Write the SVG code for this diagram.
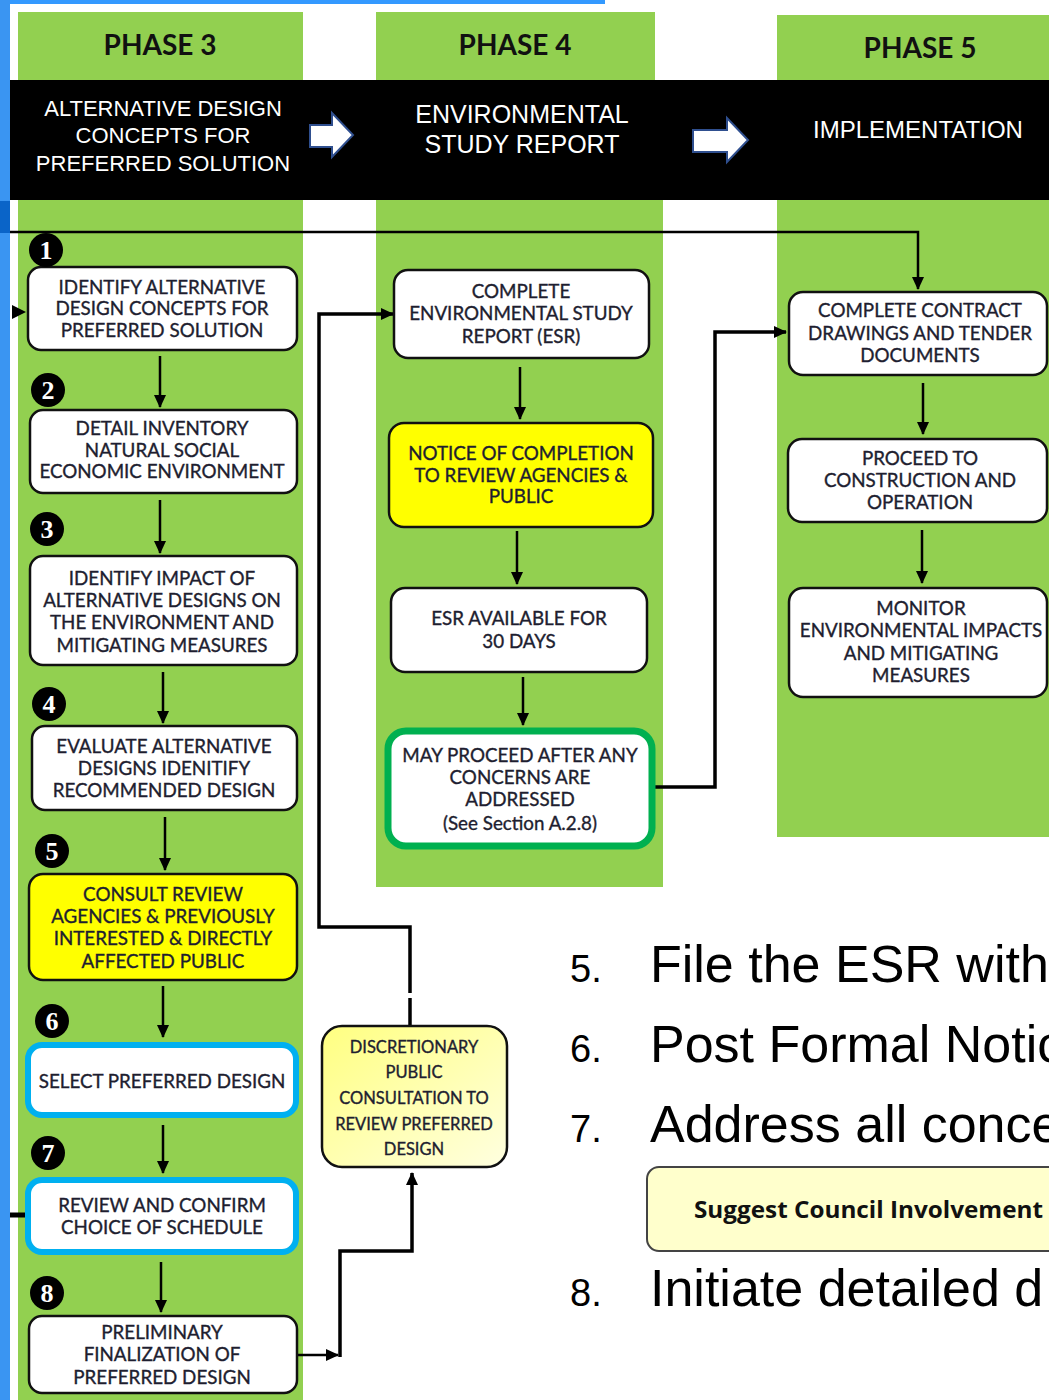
<svg xmlns="http://www.w3.org/2000/svg" width="1049" height="1400" viewBox="0 0 1049 1400">
<defs>
<marker id="ah" markerUnits="userSpaceOnUse" markerWidth="14" markerHeight="14" refX="12" refY="7" orient="auto">
<path d="M0,1 L13,7 L0,13 Z" fill="#000"/>
</marker>
<linearGradient id="ylg" x1="0" y1="0" x2="1" y2="1">
<stop offset="0" stop-color="#ffff80"/>
<stop offset="1" stop-color="#ffffe0"/>
</linearGradient>
<style>
.col{fill:#92d050}
.box{fill:#fff;stroke:#111;stroke-width:2.5}
.yel{fill:#ffff00;stroke:#111;stroke-width:2.5}
.blu{fill:#fff;stroke:#00b0f0;stroke-width:6}
.grn{fill:#fff;stroke:#00b050;stroke-width:7}
.t{font-family:Lato,"Open Sans",sans-serif;font-size:18.8px;fill:#1e1e30;stroke:#1e1e30;stroke-width:0.35;text-anchor:middle}
.ph{font-family:Lato,"Open Sans",sans-serif;font-size:28px;font-weight:bold;fill:#111;text-anchor:middle}
.hd{font-family:"Liberation Sans",Arial,sans-serif;fill:#fff;text-anchor:middle}
.num{font-family:"Liberation Serif",serif;font-weight:bold;font-size:26px;fill:#fff;text-anchor:middle}
.c{fill:none;stroke:#000;stroke-width:2.5}
.c3{fill:none;stroke:#000;stroke-width:3.5}
.lt{font-family:"Liberation Sans",Arial,sans-serif;fill:#000}
</style>
</defs>
<rect width="1049" height="1400" fill="#fff"/>
<!-- frame -->
<rect x="0" y="0" width="605" height="4" fill="#3399ff"/>
<rect x="0" y="0" width="10" height="1400" fill="#3a95f2"/>
<rect x="0" y="201" width="10" height="32" fill="#0a64c8"/>
<!-- columns -->
<g id="columns">
<rect class="col" x="18" y="12" width="285" height="1388"/>
<rect class="col" x="376" y="12" width="279" height="200"/>
<rect class="col" x="376" y="200" width="287" height="687"/>
<rect class="col" x="777" y="15" width="272" height="822"/>
</g>
<text class="ph" x="160" y="55">PHASE 3</text>
<text class="ph" x="515" y="55">PHASE 4</text>
<text class="ph" x="920" y="58">PHASE 5</text>
<!-- header band -->
<rect x="10" y="80" width="1039" height="120" fill="#000"/>
<g class="hd" font-size="22">
<text x="163" y="116">ALTERNATIVE DESIGN</text>
<text x="163" y="143">CONCEPTS FOR</text>
<text x="163" y="171">PREFERRED SOLUTION</text>
</g>
<g class="hd" font-size="25">
<text x="522" y="123">ENVIRONMENTAL</text>
<text x="522" y="153">STUDY REPORT</text>
</g>
<text class="hd" font-size="24" x="918" y="138">IMPLEMENTATION</text>
<polygon points="310,125 332,125 332,113 353,135 332,157 332,147 310,147" fill="#fff" stroke="#2f4f8f" stroke-width="2"/>
<polygon points="693,130 727,130 727,118 748,140 727,162 727,152 693,152" fill="#fff" stroke="#2f4f8f" stroke-width="2"/>

<!-- connectors -->
<g id="connectors">
<polyline class="c" points="10,232 918,232 918,289" marker-end="url(#ah)"/>
<path d="M12,305 L26,312 L12,319 Z" fill="#000"/>
<line x1="10" y1="1215" x2="28" y2="1215" stroke="#000" stroke-width="5"/>
<line class="c" x1="160" y1="356" x2="160" y2="407" marker-end="url(#ah)"/>
<line class="c" x1="160" y1="500" x2="160" y2="553" marker-end="url(#ah)"/>
<line class="c" x1="163" y1="672" x2="163" y2="723" marker-end="url(#ah)"/>
<line class="c" x1="165" y1="817" x2="165" y2="870" marker-end="url(#ah)"/>
<line class="c" x1="163" y1="986" x2="163" y2="1037" marker-end="url(#ah)"/>
<line class="c" x1="163" y1="1125" x2="163" y2="1173" marker-end="url(#ah)"/>
<line class="c" x1="161" y1="1262" x2="161" y2="1312" marker-end="url(#ah)"/>
<line class="c" x1="520" y1="367" x2="520" y2="419" marker-end="url(#ah)"/>
<line class="c" x1="517" y1="531" x2="517" y2="584" marker-end="url(#ah)"/>
<line class="c" x1="523" y1="677" x2="523" y2="725" marker-end="url(#ah)"/>
<line class="c" x1="923" y1="383" x2="923" y2="434" marker-end="url(#ah)"/>
<line class="c" x1="922" y1="530" x2="922" y2="583" marker-end="url(#ah)"/>
<polyline class="c3" points="655,787 715,787 715,332 786,332" marker-end="url(#ah)"/>
<polyline class="c3" points="410,1025 410,998"/>
<polyline class="c3" points="410,993 410,927 319,927 319,314 393,314" marker-end="url(#ah)"/>
<polyline class="c" points="297,1355 338,1355" marker-end="url(#ah)"/>
<polyline class="c3" points="340,1357 340,1251 412,1251 412,1173" marker-end="url(#ah)"/>
</g>

<!-- Phase 3 nodes -->
<g id="p3n1"><rect class="box" x="28" y="267" width="269" height="83" rx="13"/>
<text class="t" x="162" y="294">IDENTIFY ALTERNATIVE</text><text class="t" x="162" y="315">DESIGN CONCEPTS FOR</text><text class="t" x="162" y="337">PREFERRED SOLUTION</text></g>
<g id="p3n2"><rect class="box" x="30" y="410" width="267" height="83" rx="13"/>
<text class="t" x="162" y="435">DETAIL INVENTORY</text><text class="t" x="162" y="457">NATURAL SOCIAL</text><text class="t" x="162" y="478">ECONOMIC ENVIRONMENT</text></g>
<g id="p3n3"><rect class="box" x="30" y="556" width="267" height="109" rx="13"/>
<text class="t" x="162" y="585">IDENTIFY IMPACT OF</text><text class="t" x="162" y="607">ALTERNATIVE DESIGNS ON</text><text class="t" x="162" y="629">THE ENVIRONMENT AND</text><text class="t" x="162" y="652">MITIGATING MEASURES</text></g>
<g id="p3n4"><rect class="box" x="32" y="726" width="265" height="84" rx="13"/>
<text class="t" x="164" y="753">EVALUATE ALTERNATIVE</text><text class="t" x="164" y="775">DESIGNS IDENITIFY</text><text class="t" x="164" y="797">RECOMMENDED DESIGN</text></g>
<g id="p3n5"><rect class="yel" x="29" y="874" width="268" height="106" rx="14"/>
<text class="t" x="163" y="901">CONSULT REVIEW</text><text class="t" x="163" y="923">AGENCIES &amp; PREVIOUSLY</text><text class="t" x="163" y="945">INTERESTED &amp; DIRECTLY</text><text class="t" x="163" y="968">AFFECTED PUBLIC</text></g>
<g id="p3n6"><rect class="blu" x="28" y="1045" width="268" height="70" rx="14"/>
<text class="t" x="162" y="1088">SELECT PREFERRED DESIGN</text></g>
<g id="p3n7"><rect class="blu" x="28" y="1180" width="268" height="72" rx="14"/>
<text class="t" x="162" y="1212">REVIEW AND CONFIRM</text><text class="t" x="162" y="1234">CHOICE OF SCHEDULE</text></g>
<g id="p3n8"><rect class="box" x="29" y="1316" width="268" height="77" rx="13"/>
<text class="t" x="162" y="1339">PRELIMINARY</text><text class="t" x="162" y="1361">FINALIZATION OF</text><text class="t" x="162" y="1384">PREFERRED DESIGN</text></g>

<!-- numbers -->
<g id="numbers">
<circle cx="46" cy="250" r="17"/><text class="num" x="46" y="259">1</text>
<circle cx="48" cy="390" r="17"/><text class="num" x="48" y="399">2</text>
<circle cx="47" cy="529" r="17"/><text class="num" x="47" y="538">3</text>
<circle cx="49" cy="704" r="17"/><text class="num" x="49" y="713">4</text>
<circle cx="52" cy="851" r="17"/><text class="num" x="52" y="860">5</text>
<circle cx="52" cy="1021" r="17"/><text class="num" x="52" y="1030">6</text>
<circle cx="48" cy="1153" r="17"/><text class="num" x="48" y="1162">7</text>
<circle cx="47" cy="1293" r="17"/><text class="num" x="47" y="1302">8</text>
</g>

<!-- Phase 4 nodes -->
<g id="p4n1"><rect class="box" x="394" y="270" width="255" height="88" rx="14"/>
<text class="t" x="521" y="298">COMPLETE</text><text class="t" x="521" y="320">ENVIRONMENTAL STUDY</text><text class="t" x="521" y="343">REPORT (ESR)</text></g>
<g id="p4n2"><rect class="yel" x="389" y="423" width="264" height="104" rx="15"/>
<text class="t" x="521" y="460">NOTICE OF COMPLETION</text><text class="t" x="521" y="482">TO REVIEW AGENCIES &amp;</text><text class="t" x="521" y="503">PUBLIC</text></g>
<g id="p4n3"><rect class="box" x="391" y="588" width="256" height="84" rx="14"/>
<text class="t" x="519" y="625">ESR AVAILABLE FOR</text><text class="t" x="519" y="648">30 DAYS</text></g>
<g id="p4n4"><rect class="grn" x="388" y="731" width="264" height="115" rx="18"/>
<text class="t" x="520" y="762">MAY PROCEED AFTER ANY</text><text class="t" x="520" y="784">CONCERNS ARE</text><text class="t" x="520" y="806">ADDRESSED</text><text class="t" x="520" y="830">(See Section A.2.8)</text></g>

<!-- Phase 5 nodes -->
<g id="p5n1"><rect class="box" x="789" y="292" width="258" height="83" rx="14"/>
<text class="t" x="920" y="317">COMPLETE CONTRACT</text><text class="t" x="920" y="340">DRAWINGS AND TENDER</text><text class="t" x="920" y="362">DOCUMENTS</text></g>
<g id="p5n2"><rect class="box" x="788" y="439" width="259" height="83" rx="14"/>
<text class="t" x="920" y="465">PROCEED TO</text><text class="t" x="920" y="487">CONSTRUCTION AND</text><text class="t" x="920" y="509">OPERATION</text></g>
<g id="p5n3"><rect class="box" x="789" y="588" width="258" height="109" rx="14"/>
<text class="t" x="921" y="615">MONITOR</text><text class="t" x="921" y="637">ENVIRONMENTAL IMPACTS</text><text class="t" x="921" y="660">AND MITIGATING</text><text class="t" x="921" y="682">MEASURES</text></g>

<!-- Discretionary -->
<g id="disc"><rect x="322" y="1026" width="185" height="141" rx="20" fill="url(#ylg)" stroke="#111" stroke-width="2.5"/>
<text class="t" style="font-size:16.5px" x="414" y="1053">DISCRETIONARY</text><text class="t" style="font-size:16.5px" x="414" y="1078">PUBLIC</text><text class="t" style="font-size:16.5px" x="414" y="1104">CONSULTATION TO</text><text class="t" style="font-size:16.5px" x="414" y="1130">REVIEW PREFERRED</text><text class="t" style="font-size:16.5px" x="414" y="1155">DESIGN</text></g>

<!-- list text -->
<g id="list">
<text class="lt" x="570" y="982" font-size="38">5.</text>
<text class="lt" x="650" y="982" font-size="52">File the ESR with</text>
<text class="lt" x="570" y="1062" font-size="38">6.</text>
<text class="lt" x="650" y="1062" font-size="52">Post Formal Notic</text>
<text class="lt" x="570" y="1142" font-size="38">7.</text>
<text class="lt" x="650" y="1142" font-size="52">Address all conce</text>
<text class="lt" x="570" y="1306" font-size="38">8.</text>
<text class="lt" x="650" y="1306" font-size="52">Initiate detailed d</text>
</g>
<g id="council"><rect x="647" y="1167" width="420" height="84" rx="12" fill="#ffffcc" stroke="#444" stroke-width="2"/>
<text x="694" y="1218" font-family="'Open Sans',Lato,sans-serif" font-weight="bold" font-size="24" fill="#111" textLength="349" lengthAdjust="spacingAndGlyphs">Suggest Council Involvement</text></g>
</svg>
